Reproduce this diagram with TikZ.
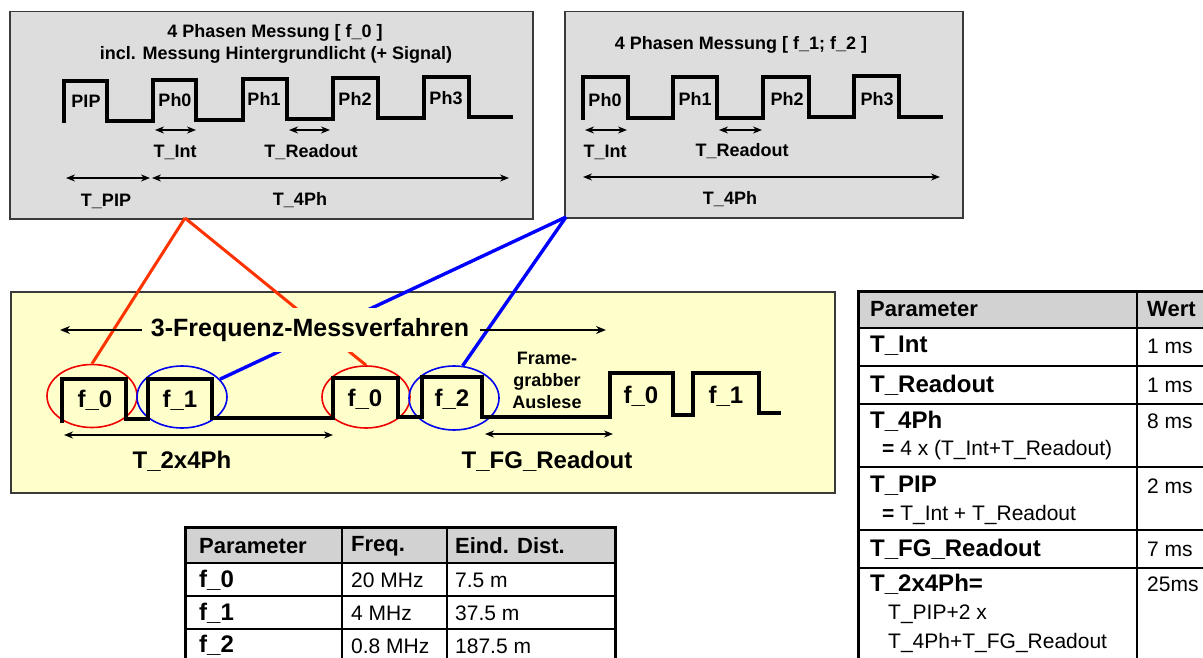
\documentclass[tikz,border=0pt]{standalone}
\usepackage{fontspec}
\setmainfont{Liberation Sans}
\usetikzlibrary{arrows.meta,shapes.geometric,calc}
\definecolor{boxgray}{HTML}{DDDDDD}
\definecolor{boxborder}{HTML}{3A3A3A}
\definecolor{ybg}{HTML}{FFFFCC}
\definecolor{hdr}{HTML}{D2D2D2}
\definecolor{redline}{HTML}{FF3300}
\definecolor{ellred}{HTML}{F00000}
\definecolor{ellblue}{HTML}{0000F0}
\begin{document}
\begin{tikzpicture}[x=1pt,y=-1pt,
  panel/.style={draw=boxborder,line width=1.5pt,inner sep=0pt,anchor=north west},
  wave/.style={line width=3.6pt,line join=miter,line cap=butt},
  dimarr/.style={line width=1.8pt,{Stealth[length=9pt,width=7pt]}-{Stealth[length=9pt,width=7pt]}},
  onearr/.style={line width=2pt,-{Stealth[length=10pt,width=8pt]}},
  tb/.style={font=\fontsize{18}{22}\selectfont\bfseries,inner sep=0pt},
  fb/.style={font=\fontsize{24}{28}\selectfont\bfseries,inner sep=0pt},
  hd/.style={font=\fontsize{22}{26}\selectfont\bfseries,inner sep=0pt,anchor=west},
  rb/.style={font=\fontsize{24}{28}\selectfont\bfseries,inner sep=0pt,anchor=west},
  rv/.style={font=\fontsize{21}{25}\selectfont,inner sep=0pt,anchor=west},
  ell/.style={ellipse,draw,line width=1.6pt,inner sep=0pt},
  conR/.style={draw=redline,line width=3pt},
  conB/.style={draw=blue,line width=3.4pt},
  tline/.style={line width=1.2pt},
  touter/.style={line width=3pt}
]
\useasboundingbox (0,0) rectangle (1203,658);

% ---------- top-left panel ----------
\node[panel,fill=boxgray,minimum width=523pt,minimum height=207pt] (boxA) at (9,11) {};
\node[tb] (titleA1) at (275,33) {4 Phasen Messung [ f\_0 ]};
\node[tb] (titleA2) at (276,55) {incl. Messung Hintergrundlicht (+ Signal)};
\draw[wave] (64,123) -- (64,81) -- (107,81) -- (107,121) -- (153,121) -- (153,80) -- (196,80) -- (196,120)
  -- (243,120) -- (243,79) -- (287,79) -- (287,119) -- (333,119) -- (333,78) -- (378,78) -- (378,118)
  -- (424,118) -- (424,77) -- (469,77) -- (469,117) -- (513,117);
\node[tb] (pip) at (86,101) {PIP};
\node[tb] (a0) at (175,100) {Ph0};
\node[tb] (a1) at (264,99) {Ph1};
\node[tb] (a2) at (355,99) {Ph2};
\node[tb] (a3) at (446,98) {Ph3};
\draw[dimarr] (155,130) -- (196,130);
\draw[dimarr] (289,130) -- (330,130);
\node[tb] (aint) at (175,152) {T\_Int};
\node[tb] (aread) at (311,152) {T\_Readout};
\draw[dimarr] (66,178) -- (150,178);
\draw[dimarr] (152,178) -- (509,178);
\node[tb] (apip) at (106,201) {T\_PIP};
\node[tb] (a4ph) at (300,200) {T\_4Ph};

% ---------- top-right panel ----------
\node[panel,fill=boxgray,minimum width=398pt,minimum height=206pt] (boxB) at (564,11) {};
\node[tb] (titleB) at (741,45) {4 Phasen Messung [ f\_1; f\_2 ]};
\draw[wave] (583,120) -- (583,77) -- (628,77) -- (628,118) -- (673,118) -- (673,77) -- (717,77) -- (717,118)
  -- (763,118) -- (763,77) -- (809,77) -- (809,117) -- (854,117) -- (854,76) -- (899,76) -- (899,117) -- (943,117);
\node[tb] (b0) at (605,100) {Ph0};
\node[tb] (b1) at (695,99) {Ph1};
\node[tb] (b2) at (787,99) {Ph2};
\node[tb] (b3) at (877,99) {Ph3};
\draw[dimarr] (585,130) -- (627,130);
\draw[dimarr] (719,130) -- (762,130);
\node[tb] (bint) at (605,152) {T\_Int};
\node[tb] (bread) at (742,151) {T\_Readout};
\draw[dimarr] (583,177) -- (940,177);
\node[tb] (b4ph) at (730,199) {T\_4Ph};

% ---------- yellow panel ----------
\node[panel,fill=ybg,draw=boxborder,minimum width=824pt,minimum height=201pt] (boxY) at (10,291) {};
\node[ell,draw=ellred,minimum width=90pt,minimum height=63pt] (e1) at (92,396) {};
\node[ell,draw=ellblue,minimum width=90pt,minimum height=62pt] (e2) at (182,397) {};
\node[ell,draw=ellred,minimum width=88pt,minimum height=62pt] (e3) at (366,397) {};
\node[ell,draw=ellblue,minimum width=90pt,minimum height=64pt] (e4) at (454,398) {};
\coordinate (apexR) at (185,218);
\coordinate (apexB) at (566,217);
\draw[conR] (apexR) -- (e1.north);
\draw[conR] (apexR) -- (e3.north);
\draw[conB] (apexB) -- (e2);
\draw[conB] (apexB) -- (e4.75);
\node[font=\fontsize{25}{30}\selectfont\bfseries,fill=ybg,inner xsep=1pt,inner ysep=0pt,minimum height=44pt] (freq) at (310,330) {3-Frequenz-Messverfahren};
\draw[onearr] (142,330) -- (60,330);
\draw[onearr] (480,330) -- (606,330);
\draw[wave,line width=4pt] (62,423) -- (62,379) -- (126,379) -- (126,419) -- (148,419) -- (148,379) -- (212,379) -- (212,418)
  -- (333,418) -- (333,378) -- (398,378) -- (398,417) -- (422,417) -- (422,377) -- (482,377) -- (482,417)
  -- (610,417) -- (610,373) -- (673,373) -- (673,415) -- (693,415) -- (693,373) -- (759,373) -- (759,413) -- (781,413);
\node[fb] (y0) at (95,400) {f\_0};
\node[fb] (y1) at (180,400) {f\_1};
\node[fb] (y2) at (365,399) {f\_0};
\node[fb] (y3) at (452,399) {f\_2};
\node[fb] (y4) at (641,396) {f\_0};
\node[fb] (y5) at (726,396) {f\_1};
\node[font=\fontsize{18}{22}\selectfont\bfseries,align=center,inner sep=0pt] (fg) at (547,380) {Frame-\\grabber\\Auslese};
\draw[dimarr] (64,435) -- (333,435);
\draw[dimarr] (485,434) -- (613,434);
\node[fb] (t2x) at (182,461) {T\_2x4Ph};
\node[fb] (tfg) at (547,461) {T\_FG\_Readout};

% ---------- bottom table ----------
\fill[hdr] (185,527) rectangle (615,563);
\draw[tline] (185,563) -- (615,563);
\draw[tline] (185,596) -- (615,596);
\draw[tline] (185,629) -- (615,629);
\draw[tline] (342,527) -- (342,662);
\draw[tline] (447,527) -- (447,662);
\draw[touter] (185,662) -- (185,527) -- (615,527) -- (615,662);
\node[hd] (p1) at (199,546) {Parameter};
\node[hd] (p2) at (351,546) {Freq.};
\node[hd] (p3) at (455,546) {Eind. Dist.};
\node[rb] (r0) at (199,580) {f\_0};
\node[rv] (r0f) at (351,580) {20 MHz};
\node[rv] (r0d) at (455,580) {7.5 m};
\node[rb] (r1) at (199,613) {f\_1};
\node[rv] (r1f) at (351,613) {4 MHz};
\node[rv] (r1d) at (455,613) {37.5 m};
\node[rb] (r2) at (199,645) {f\_2};
\node[rv] (r2f) at (351,646) {0.8 MHz};
\node[rv] (r2d) at (455,646) {187.5 m};

% ---------- right table ----------
\fill[hdr] (858,291) rectangle (1215,328);
\foreach \yy in {328,366,404,467,530,568} {\draw[tline] (858,\yy) -- (1215,\yy);}
\draw[tline] (1137,291) -- (1137,662);
\draw[touter] (858,662) -- (858,291) -- (1215,291);
\node[hd] (q0) at (870,309) {Parameter};
\node[hd] (w0) at (1147,309) {Wert};
\node[rb] (q1) at (870,346) {T\_Int};
\node[rv] (w1) at (1147,346) {1 ms};
\node[rb] (q2) at (870,385) {T\_Readout};
\node[rv] (w2) at (1147,385) {1 ms};
\node[rb] (q3) at (870,421) {T\_4Ph};
\node[rv] (q3b) at (882,450) {\textbf{=} 4 x (T\_Int+T\_Readout)};
\node[rv] (w3) at (1147,421) {8 ms};
\node[rb] (q4) at (870,486) {T\_PIP};
\node[rv] (q4b) at (882,515) {\textbf{=} T\_Int + T\_Readout};
\node[rv] (w4) at (1147,486) {2 ms};
\node[rb] (q5) at (870,549) {T\_FG\_Readout};
\node[rv] (w5) at (1147,549) {7 ms};
\node[rb] (q6) at (870,584) {T\_2x4Ph=};
\node[rv] (q6b) at (888,614) {T\_PIP+2 x};
\node[rv] (q6c) at (888,643) {T\_4Ph+T\_FG\_Readout};
\node[rv] (w6) at (1147,584) {25ms};
\end{tikzpicture}
\end{document}
